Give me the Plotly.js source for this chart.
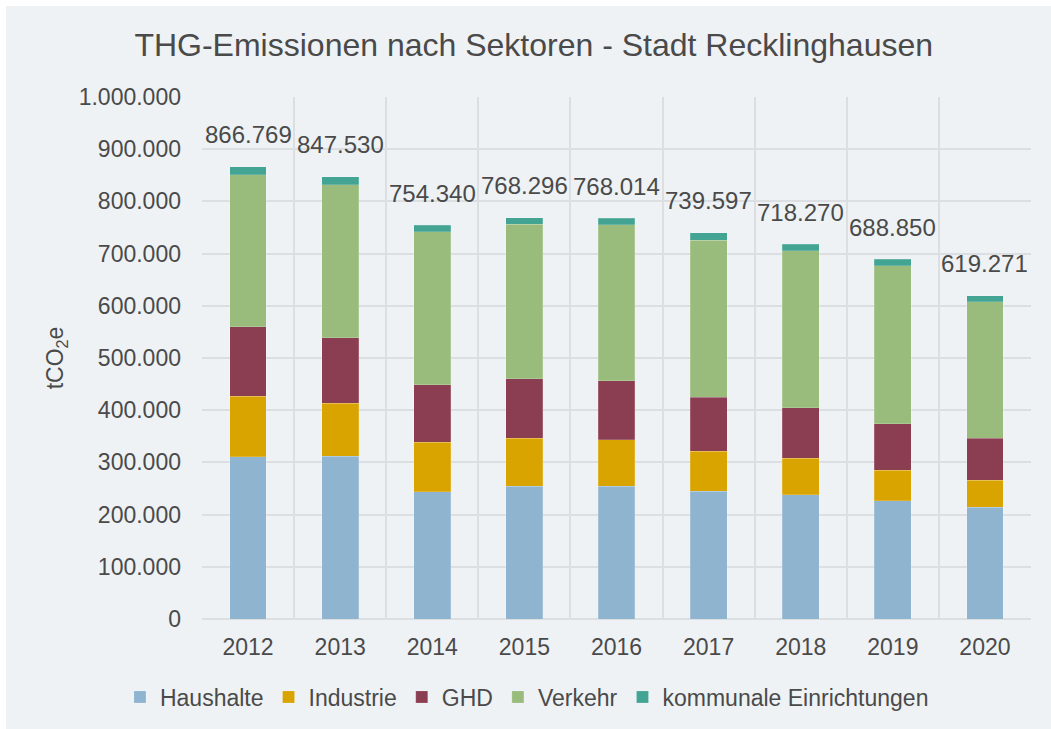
<!DOCTYPE html>
<html>
<head>
<meta charset="utf-8">
<script src="https://cdn.plot.ly/plotly-3.0.1.min.js"></script>
<style>
  html, body { margin: 0; padding: 0; background: #ffffff; }
  #chart { position: absolute; left: 6px; top: 6px; width: 1045px; height: 723px; }
</style>
</head>
<body>
<div id="chart"></div>
<script>
const years = ['2012', '2013', '2014', '2015', '2016', '2017', '2018', '2019', '2020'];
const haushalte = [311000, 311800, 244000, 254000, 254000, 244600, 238200, 226600, 214500];
const industrie = [116000, 101800, 94700, 92400, 89800, 76800, 69800, 58300, 51200];
const ghd       = [132500, 125400, 110100, 113900, 112700, 103100, 96600, 89000, 80700];
const verkehr   = [292000, 292600, 293200, 295700, 298300, 301500, 300900, 302800, 261200];
const kommunal  = [15269, 15930, 12340, 12296, 13214, 13597, 12770, 12150, 11671];
const totals    = [866769, 847530, 754340, 768296, 768014, 739597, 718270, 688850, 619271];
const seriesNames = ['Haushalte', 'Industrie', 'GHD', 'Verkehr', 'kommunale Einrichtungen'];
const yTickVals = [0, 100000, 200000, 300000, 400000, 500000, 600000, 700000, 800000, 900000, 1000000];

const colors = ['#8EB4D0', '#D9A300', '#8B3E52', '#99BB7C', '#44A494'];
const seriesData = [haushalte, industrie, ghd, verkehr, kommunal];
const textColor = '#4a4a4a';
const font = 'Liberation Sans, Arial, sans-serif';

function fmtDE(n) {
  return String(n).replace(/\B(?=(\d{3})+(?!\d))/g, '.');
}

const traces = seriesData.map((vals, i) => ({
  type: 'bar',
  name: seriesNames[i],
  x: years,
  y: vals,
  marker: { color: colors[i], line: { color: 'rgba(255,255,255,0.35)', width: 0.5 } },
  hoverinfo: 'name+y'
}));

const annotations = years.map((yr, i) => ({
  x: i,
  y: totals[i],
  xref: 'x',
  yref: 'y',
  text: fmtDE(totals[i]),
  showarrow: false,
  yanchor: 'middle',
  yshift: 32,
  font: { family: font, size: 24, color: textColor }
}));

const layout = {
  barmode: 'stack',
  bargap: 0.6,
  separators: ',.',
  paper_bgcolor: '#EEF2F5',
  plot_bgcolor: '#EEF2F5',
  margin: { l: 196, r: 20, t: 91, b: 110 },
  title: {
    text: 'THG-Emissionen nach Sektoren - Stadt Recklinghausen',
    font: { family: font, size: 32, color: textColor },
    xref: 'container',
    x: 0.505,
    xanchor: 'center',
    y: 1 - 39 / 723,
    yanchor: 'middle'
  },
  xaxis: {
    type: 'category',
    categoryorder: 'array',
    categoryarray: years,
    range: [-0.5, years.length - 0.5],
    autorange: false,
    tickson: 'boundaries',
    showgrid: true,
    gridcolor: '#DCDFE2',
    gridwidth: 1.5,
    ticks: '',
    showline: false,
    zeroline: false,
    tickangle: 0,
    tickfont: { family: font, size: 23, color: textColor },
    ticklabelstandoff: 12
  },
  yaxis: {
    range: [0, 1000000],
    autorange: false,
    tickvals: yTickVals,
    tickformat: ',d',
    showgrid: true,
    gridcolor: '#DCDFE2',
    gridwidth: 1.5,
    zeroline: true,
    zerolinecolor: '#DCDFE2',
    zerolinewidth: 1.5,
    ticks: '',
    tickfont: { family: font, size: 23, color: textColor },
    ticklabelstandoff: 20,
    title: {
      text: 'tCO<sub>2</sub>e',
      font: { family: font, size: 23, color: textColor },
      standoff: 8
    }
  },
  legend: {
    orientation: 'h',
    xref: 'paper',
    x: 0.392,
    xanchor: 'center',
    yref: 'container',
    y: 1 - 691 / 723,
    yanchor: 'middle',
    font: { family: font, size: 23, color: textColor },
    traceorder: 'normal',
    itemwidth: 30
  },
  annotations: annotations,
  showlegend: true
};

Plotly.newPlot('chart', traces, layout, { displayModeBar: false, responsive: false });
</script>
</body>
</html>
